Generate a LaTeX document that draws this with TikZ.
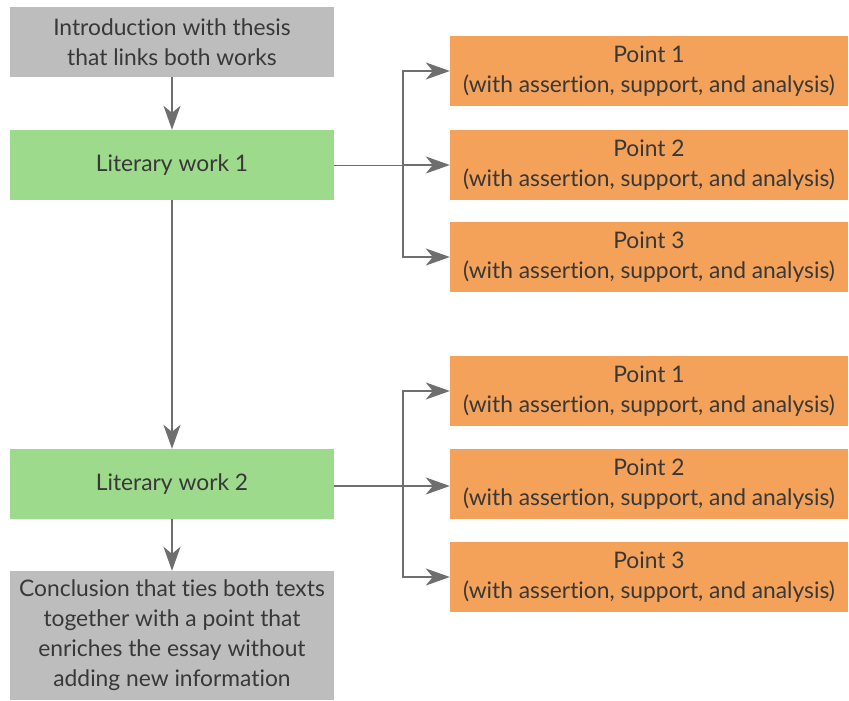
\documentclass[tikz,border=0pt]{standalone}
\usepackage{fontspec}
\setmainfont{Lato}[Ligatures=NoCommon]
\usetikzlibrary{arrows.meta}
\definecolor{boxgray}{HTML}{BDBDBD}
\definecolor{boxgreen}{HTML}{9DDA8B}
\definecolor{boxorange}{HTML}{F4A25A}
\definecolor{linegray}{HTML}{6E6E6E}
\definecolor{txtgray}{HTML}{383838}
\begin{document}
\begin{tikzpicture}[%
            x=1pt, y=-1pt,
            every node/.style={inner sep=0pt, align=center, text=txtgray,
                font=\fontsize{22.8}{30}\selectfont},
            greybox/.style={fill=boxgray, minimum width=324pt},
            workbox/.style={fill=boxgreen, minimum width=324pt, minimum height=70pt},
            pointbox/.style={fill=boxorange, minimum width=398pt, minimum height=70pt},
            myarrow/.style={draw=linegray, line width=1.8pt,
                -{Stealth[length=24pt, width=17pt, inset=7pt]}}
    ]
        \useasboundingbox (0,0) rectangle (849,701);

        \node [greybox, minimum height=70pt] (intro) at (172,42)
            {Introduction with thesis\\that links both works};
        \node [workbox] (work1) at (172,165) {Literary work 1};
        \node [workbox] (work2) at (172,484) {Literary work 2};
        \node [greybox, minimum height=129pt] (concl) at (172,635.5)
            {Conclusion that ties both texts\\together with a point that\\enriches the essay without\\adding new information};

        % points of the two works
        \foreach \w/\ya/\yb/\yc in {a/71/165/257, b/391/484/577} {
            \node [pointbox] (p1\w) at (649,\ya) {Point 1\\(with assertion, support, and analysis)};
            \node [pointbox] (p2\w) at (649,\yb) {Point 2\\(with assertion, support, and analysis)};
            \node [pointbox] (p3\w) at (649,\yc) {Point 3\\(with assertion, support, and analysis)};
        }

        \draw [myarrow] (intro) -- (work1);
        \draw [myarrow] (work1) -- (work2);
        \draw [myarrow] (work2) -- (concl);

        \coordinate (fork1) at (403,165);
        \coordinate (fork2) at (403,486);
        \draw [draw=linegray, line width=1pt] (work1.east) -- (fork1);
        \draw [draw=linegray, line width=2.2pt] (work2.east |- fork2) -- (fork2);
        \foreach \w/\f in {a/fork1, b/fork2} {
            \draw [myarrow] (\f) |- (p1\w.west);
            \draw [myarrow] (\f) -- (\f -| p2\w.west);
            \draw [myarrow] (\f) |- (p3\w.west);
        }
    \end{tikzpicture}
\end{document}
